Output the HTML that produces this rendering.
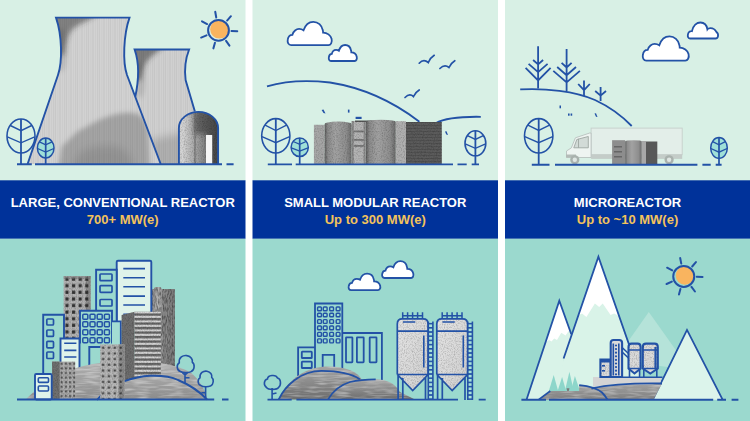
<!DOCTYPE html>
<html><head><meta charset="utf-8">
<style>
html,body{margin:0;padding:0;background:#fff;}
body{width:750px;height:421px;overflow:hidden;position:relative;font-family:"Liberation Sans",sans-serif;}
svg{position:absolute;left:0;top:0;display:block;}
</style></head><body>
<svg width="750" height="421" viewBox="0 0 750 421">
<defs>
  <pattern id="vstr" x="0" y="0" width="11" height="10" patternUnits="userSpaceOnUse">
    <rect x="0" y="0" width="0.8" height="10" fill="#000" fill-opacity="0.06"/>
    <rect x="2.5" y="0" width="0.7" height="10" fill="#000" fill-opacity="0.04"/>
    <rect x="4.6" y="0" width="0.9" height="10" fill="#000" fill-opacity="0.07"/>
    <rect x="7.2" y="0" width="0.7" height="10" fill="#000" fill-opacity="0.04"/>
    <rect x="9.3" y="0" width="0.8" height="10" fill="#000" fill-opacity="0.06"/>
  </pattern>
  <linearGradient id="t1g" x1="0" y1="0" x2="1" y2="0">
    <stop offset="0" stop-color="#9a9a9a"/>
    <stop offset="0.25" stop-color="#c4c4c4"/>
    <stop offset="0.7" stop-color="#cfcfcf"/>
    <stop offset="1" stop-color="#bdbdbd"/>
  </linearGradient>
  <linearGradient id="t1v" x1="0" y1="0" x2="0" y2="1">
    <stop offset="0" stop-color="#000" stop-opacity="0.15"/>
    <stop offset="0.12" stop-color="#000" stop-opacity="0"/>
    <stop offset="0.6" stop-color="#000" stop-opacity="0"/>
    <stop offset="1" stop-color="#000" stop-opacity="0.18"/>
  </linearGradient>

  <radialGradient id="t1r" cx="0.1" cy="0.05" r="0.5">
    <stop offset="0" stop-color="#000" stop-opacity="0.45"/>
    <stop offset="1" stop-color="#000" stop-opacity="0"/>
  </radialGradient>
  <radialGradient id="t2r" cx="0.05" cy="0.03" r="0.45">
    <stop offset="0" stop-color="#000" stop-opacity="0.5"/>
    <stop offset="1" stop-color="#000" stop-opacity="0"/>
  </radialGradient>
  <linearGradient id="archg" x1="0" y1="0" x2="1" y2="0">
    <stop offset="0" stop-color="#c8c8c8"/>
    <stop offset="0.15" stop-color="#d4d4d4"/>
    <stop offset="0.45" stop-color="#9c9c9c"/>
    <stop offset="0.8" stop-color="#5a5a5a"/>
    <stop offset="1" stop-color="#444"/>
  </linearGradient>

  <pattern id="win66" x="63.6" y="276.1" width="6.6" height="6.6" patternUnits="userSpaceOnUse">
    <rect x="1.8" y="1.4" width="3.2" height="3.2" fill="#333"/>
  </pattern>
  <pattern id="win55" x="101.5" y="346" width="5.9" height="5.7" patternUnits="userSpaceOnUse">
    <rect x="0.5" y="0.6" width="2.1" height="2.1" fill="#3a3a3a"/>
  </pattern>
  <pattern id="win44" x="59.7" y="361.6" width="4.2" height="4.6" patternUnits="userSpaceOnUse">
    <rect x="1" y="1.2" width="2" height="2" fill="#3a3a3a" fill-opacity="0.85"/>
  </pattern>
  <pattern id="strK" x="134.6" y="313.5" width="26.2" height="4.5" patternUnits="userSpaceOnUse">
    <rect x="0" y="2.3" width="26.2" height="1.9" fill="#e2e2e2"/>
    <rect x="0" y="0" width="26.2" height="2.3" fill="#4e4e4e" fill-opacity="0.6"/>
  </pattern>
  <linearGradient id="gJ" x1="0" y1="0" x2="1" y2="0">
    <stop offset="0" stop-color="#8e8e8e"/>
    <stop offset="0.3" stop-color="#b5b5b5"/>
    <stop offset="0.5" stop-color="#8a8a8a"/>
    <stop offset="1" stop-color="#7e7e7e"/>
  </linearGradient>
  <linearGradient id="hillg" x1="0" y1="0" x2="0" y2="1">
    <stop offset="0" stop-color="#b0b0b0"/>
    <stop offset="1" stop-color="#8e8e8e"/>
  </linearGradient>
  <linearGradient id="hillg2" x1="0" y1="0" x2="0" y2="1">
    <stop offset="0" stop-color="#a8a8a8"/>
    <stop offset="1" stop-color="#8a8a8a"/>
  </linearGradient>

  <linearGradient id="cyl" x1="0" y1="0" x2="1" y2="0">
    <stop offset="0" stop-color="#5e5e5e"/>
    <stop offset="0.12" stop-color="#8c8c8c"/>
    <stop offset="0.4" stop-color="#a2a2a2"/>
    <stop offset="0.8" stop-color="#8e8e8e"/>
    <stop offset="1" stop-color="#6a6a6a"/>
  </linearGradient>
  <pattern id="hstr" x="0" y="122" width="10" height="3" patternUnits="userSpaceOnUse">
    <rect x="0" y="0" width="10" height="1" fill="#000" fill-opacity="0.12"/>
  </pattern>

  <linearGradient id="hill2g" x1="0" y1="0" x2="0" y2="1">
    <stop offset="0" stop-color="#a4a4a4"/>
    <stop offset="0.5" stop-color="#8a8a8a"/>
    <stop offset="1" stop-color="#6c6c6c"/>
  </linearGradient>
  <linearGradient id="silof" x1="0" y1="0" x2="1" y2="1">
    <stop offset="0" stop-color="#e4e4e4"/>
    <stop offset="0.6" stop-color="#d8d8d8"/>
    <stop offset="1" stop-color="#cdcdcd"/>
  </linearGradient>
  <pattern id="ladder" x="0" y="322.8" width="5" height="4.2" patternUnits="userSpaceOnUse">
    <rect width="5" height="4.2" fill="#a8e2d8"/>
    <rect x="0" y="0" width="5" height="1.6" fill="#2352a6"/>
  </pattern>

  <linearGradient id="hill3g" x1="0" y1="0" x2="0" y2="1">
    <stop offset="0" stop-color="#a2a2a2"/>
    <stop offset="1" stop-color="#7e7e7e"/>
  </linearGradient>

  <filter id="blur3" x="-20%" y="-20%" width="140%" height="140%"><feGaussianBlur stdDeviation="2.5"/></filter>
  <filter id="blur4" x="-20%" y="-20%" width="140%" height="140%"><feGaussianBlur stdDeviation="4"/></filter>
  <filter id="blur5" x="-30%" y="-30%" width="160%" height="160%"><feGaussianBlur stdDeviation="5"/></filter>

  <pattern id="speck" x="0" y="0" width="7" height="7" patternUnits="userSpaceOnUse">
    <circle cx="1.5" cy="2" r="0.7" fill="#000" fill-opacity="0.12"/>
    <circle cx="5" cy="5.2" r="0.8" fill="#000" fill-opacity="0.1"/>
    <circle cx="4.2" cy="1" r="0.5" fill="#fff" fill-opacity="0.4"/>
  </pattern>

  <filter id="grain" x="0" y="0" width="100%" height="100%">
    <feTurbulence type="fractalNoise" baseFrequency="0.8 0.25" numOctaves="2" seed="5"/>
    <feColorMatrix values="0 0 0 0 0  0 0 0 0 0  0 0 0 0 0  0 0 0 0.9 -0.33"/>
    <feComposite in2="SourceAlpha" operator="in"/>
  </filter>
  <filter id="grainL" x="0" y="0" width="100%" height="100%">
    <feTurbulence type="fractalNoise" baseFrequency="0.75" numOctaves="2" seed="9"/>
    <feColorMatrix values="0 0 0 0 1  0 0 0 0 1  0 0 0 0 1  0 0 0 1.1 -0.5"/>
    <feComposite in2="SourceAlpha" operator="in"/>
  </filter>

  <filter id="grainS" x="0" y="0" width="100%" height="100%">
    <feTurbulence type="fractalNoise" baseFrequency="1.2 0.6" numOctaves="1" seed="2"/>
    <feColorMatrix values="0 0 0 0 0  0 0 0 0 0  0 0 0 0 0  0 0 0 0.5 -0.2"/>
    <feComposite in2="SourceAlpha" operator="in"/>
  </filter>

  <filter id="grainH" x="0" y="0" width="100%" height="100%">
    <feTurbulence type="fractalNoise" baseFrequency="0.06 0.45" numOctaves="2" seed="7"/>
    <feColorMatrix values="0 0 0 0 1  0 0 0 0 1  0 0 0 0 1  0 0 0 0.9 -0.38"/>
    <feComposite in2="SourceAlpha" operator="in"/>
  </filter>

  <filter id="grainXS" x="0" y="0" width="100%" height="100%">
    <feTurbulence type="fractalNoise" baseFrequency="0.9 0.7" numOctaves="2" seed="4"/>
    <feColorMatrix values="0 0 0 0 0  0 0 0 0 0  0 0 0 0 0  0 0 0 0.45 -0.19"/>
    <feComposite in2="SourceAlpha" operator="in"/>
  </filter>
</defs>

<!-- backgrounds -->
<rect x="0" y="0" width="750" height="421" fill="#fff"/>
<rect x="0" y="0" width="245.5" height="181" fill="#d8f0e5"/>
<rect x="252.5" y="0" width="245.5" height="181" fill="#d8f0e5"/>
<rect x="505" y="0" width="245" height="181" fill="#d8f0e5"/>
<rect x="0" y="180.3" width="245.5" height="58.5" fill="#00329a"/>
<rect x="252.5" y="180.3" width="245.5" height="58.5" fill="#00329a"/>
<rect x="505" y="180.3" width="245" height="58.5" fill="#00329a"/>
<rect x="0" y="238.8" width="245.5" height="182.2" fill="#9bd9ce"/>
<rect x="252.5" y="238.8" width="245.5" height="182.2" fill="#9bd9ce"/>
<rect x="505" y="238.8" width="245" height="182.2" fill="#9bd9ce"/>

<!-- text -->
<g font-family="Liberation Sans" font-weight="bold" font-size="13" text-anchor="middle">
  <text x="122.75" y="207.3" fill="#fff">LARGE, CONVENTIONAL REACTOR</text>
  <text x="122.75" y="224" fill="#f3c35c">700+ MW(e)</text>
  <text x="375.25" y="207.3" fill="#fff">SMALL MODULAR REACTOR</text>
  <text x="375.25" y="224" fill="#f3c35c">Up to 300 MW(e)</text>
  <text x="627.5" y="207.3" fill="#fff">MICROREACTOR</text>
  <text x="627.5" y="224" fill="#f3c35c">Up to ~10 MW(e)</text>
</g>

<!-- PANEL 1 TOP -->
<g id="p1top">
  <!-- tower 2 -->
  <clipPath id="cT2"><path d="M135,98 C139,80 139,62 134.6,49.5 L189.1,49.5 C185,60 184.3,70 185.6,80 L194.8,111.3 L212,164 L140,164Z"/></clipPath>
  <clipPath id="cT1"><path d="M27.6,164 L58,75 C62.6,61.6 62,35 56,17.6 L129.5,17.6 C123.5,35 122.5,62 127,75 L160.7,164Z"/></clipPath>
  <g clip-path="url(#cT2)">
    <rect x="130" y="45" width="90" height="125" fill="#d0d0d0"/>
    <path d="M130,45 H165 C158,52 152,55 148,60 C144,65 142,72 141,80 L130,80Z" fill="#333" fill-opacity="0.55" filter="url(#blur3)"/>
    <ellipse cx="140" cy="80" rx="5" ry="18" fill="#000" fill-opacity="0.12" filter="url(#blur3)"/>
    <path d="M150,140 C165,136 185,132 200,130 L215,170 H150Z" fill="#000" fill-opacity="0.16" filter="url(#blur4)"/>
    <rect x="130" y="45" width="90" height="125" fill="url(#vstr)"/>
  </g>
  <path d="M135,98 C139,80 139,62 134.6,49.5 L189.1,49.5 C185,60 184.3,70 185.6,80 L194.8,111.3" fill="none" stroke="#2352a6" stroke-width="1.9"/>
  <!-- tower 1 -->
  <g clip-path="url(#cT1)">
    <rect x="20" y="10" width="150" height="160" fill="#d2d2d2"/>
    <path d="M50,12 H100 C92,20 82,22 74,28 C68,33 66,42 64,55 L50,55Z" fill="#333" fill-opacity="0.5" filter="url(#blur3)"/>
    <ellipse cx="61" cy="50" rx="6" ry="22" fill="#000" fill-opacity="0.12" filter="url(#blur3)"/>
    <path d="M58,170 L62,146 C70,140 75,132 82,129 C92,124 100,119 104,118 C112,115 122,112 132,113 C140,113 145,118 148,130 L150,170Z" fill="#000" fill-opacity="0.22" filter="url(#blur3)"/>
    <path d="M72,170 C74,160 78,153 84,150 C94,146 104,145 114,146 C122,147 128,152 132,160 L134,170Z" fill="#000" fill-opacity="0.1" filter="url(#blur4)"/>
    <rect x="20" y="10" width="150" height="160" fill="url(#vstr)"/>
  </g>
  <path d="M27.6,164 L58,75 C62.6,61.6 62,35 56,17.6 L129.5,17.6 C123.5,35 122.5,62 127,75 L160.7,164" fill="none" stroke="#2352a6" stroke-width="1.9"/>
  <!-- arch building -->
  <clipPath id="cArch"><path d="M178.9,164.2 L178.9,128 A19.6,16.1 0 0 1 218.1,128 L218.1,164.2Z"/></clipPath>
  <g clip-path="url(#cArch)">
    <rect x="175" y="108" width="50" height="60" fill="url(#archg)"/>
    <path d="M194,110 H222 V168 H212 L208,134 H194Z" fill="#3c3c3c" fill-opacity="0.6" filter="url(#blur3)"/>
    <rect x="194" y="112" width="2" height="52" fill="#666" fill-opacity="0.5"/>
    <rect x="175" y="108" width="50" height="60" fill="#000" filter="url(#grainXS)"/>
    <rect x="206" y="135" width="6.2" height="29" fill="#f4f4f4"/>
  </g>
  <path d="M178.9,164.2 L178.9,128 A19.6,16.1 0 0 1 218.1,128 L218.1,164.2" fill="none" stroke="#2352a6" stroke-width="1.9"/>
  <!-- ground -->
  <path d="M17,164.3 H31.8 M35,164.3 H222 M226.5,164.3 H233.6" stroke="#2352a6" stroke-width="1.9"/>
  <!-- trees -->
  <ellipse cx="21" cy="136" rx="14" ry="17" fill="none" stroke="#2352a6" stroke-width="1.6"/>
  <path d="M21,119.0 V164.3" stroke="#2352a6" stroke-width="1.8"/>
  <path d="M10.3,125.5 L21,130.7 L31.7,125.5 M7.3,136.8 L21,142.8 L34.7,136.8" fill="none" stroke="#2352a6" stroke-width="1.4"/>
  <ellipse cx="45.7" cy="148" rx="8.3" ry="10" fill="#9fe0d8" stroke="#2352a6" stroke-width="1.5"/>
  <path d="M45.7,138.0 V164.3" stroke="#2352a6" stroke-width="1.7"/>
  <path d="M39.4,141.8 L45.7,144.9 L52.0,141.8 M37.6,148.5 L45.7,152.0 L53.8,148.5" fill="none" stroke="#2352a6" stroke-width="1.3"/>
  <!-- sun -->
  <g transform="translate(218.5,30.3)">
    <circle cx="1" cy="-1" r="9.3" fill="#f9b45f"/>
    <circle cx="0" cy="0" r="10.4" fill="none" stroke="#2352a6" stroke-width="2"/>
    <g stroke="#2352a6" stroke-width="2" stroke-linecap="round">
      <path d="M13,0 L18.8,0" transform="rotate(3)"/>
      <path d="M13,0 L18.8,0" transform="rotate(54.4)"/>
      <path d="M13,0 L18.8,0" transform="rotate(105.8)"/>
      <path d="M13,0 L18.8,0" transform="rotate(157.2)"/>
      <path d="M13,0 L18.8,0" transform="rotate(208.6)"/>
      <path d="M13,0 L18.8,0" transform="rotate(260)"/>
      <path d="M13,0 L18.8,0" transform="rotate(311.4)"/>
    </g>
  </g>
</g>
<!-- PANEL 1 BOTTOM -->
<g id="p1bot">
  <!-- gray tower J (back right) -->
  <path d="M151.6,375 L151.6,289 L154,289 C154,287.5 155,287 157,287 L160,287 C161,287 161.5,288 161.5,289 L174.9,289 L174.9,378Z" fill="url(#gJ)"/>
  <path d="M151.6,375 L151.6,289 L154,289 C154,287.5 155,287 157,287 L160,287 C161,287 161.5,288 161.5,289 L174.9,289 L174.9,378Z" fill="#000" filter="url(#grain)"/>
  <rect x="151.6" y="289" width="23.3" height="90" fill="url(#vstr)"/>
  <!-- gray tower G1 (back left) -->
  <rect x="63.6" y="276.1" width="27.1" height="66" fill="#b2b2b2"/>
  <rect x="85.7" y="276.1" width="5" height="66" fill="#8d8d8d"/>
  <rect x="63.6" y="276.1" width="27.1" height="66" fill="url(#win66)"/>
  <rect x="63.6" y="276.1" width="27.1" height="3" fill="#777" fill-opacity="0.5"/>
  <rect x="63.6" y="276.1" width="27.1" height="66" fill="#000" filter="url(#grainS)"/>
  <!-- building B (tall light) -->
  <path d="M116.7,330 V262 Q116.7,260.8 118,260.8 H150 Q151.3,260.8 151.3,262 V330" fill="#dff3ea" stroke="#2352a6" stroke-width="1.9"/>
  <path d="M123.3,268.6 H145 M123.3,277.8 H145 M123.3,286.8 H145 M123.3,296.1 H145 M123.3,305 H145 M123.3,314.4 H145" stroke="#2352a6" stroke-width="1.6"/>
  <!-- building A (outline 3 windows) -->
  <path d="M96.1,312 V269.7 H116.7 V321.4" fill="#9bd9ce" stroke="#2352a6" stroke-width="1.9"/>
  <rect x="100" y="274" width="12" height="6.7" rx="0.8" fill="none" stroke="#2352a6" stroke-width="1.7"/>
  <rect x="100" y="285.7" width="12" height="6.7" rx="0.8" fill="none" stroke="#2352a6" stroke-width="1.7"/>
  <rect x="100" y="299.5" width="12" height="6.5" rx="0.8" fill="none" stroke="#2352a6" stroke-width="1.7"/>
  <!-- building D (left outline) -->
  <path d="M43.2,374 V314.7 H64 V340" fill="#9bd9ce" stroke="#2352a6" stroke-width="1.9"/>
  <rect x="46.8" y="319" width="6.7" height="6" rx="1" fill="none" stroke="#2352a6" stroke-width="1.7"/>
  <rect x="46.8" y="330" width="6.7" height="6.4" rx="1" fill="none" stroke="#2352a6" stroke-width="1.7"/>
  <rect x="46.8" y="341.4" width="6.7" height="6.4" rx="1" fill="none" stroke="#2352a6" stroke-width="1.7"/>
  <rect x="46.8" y="352" width="6.7" height="6.5" rx="1" fill="none" stroke="#2352a6" stroke-width="1.7"/>
  <!-- building C (grid) -->
  <path d="M80,343.5 V310.7 H112 V343.5" fill="#9bd9ce" stroke="#2352a6" stroke-width="1.9"/>
  <g fill="none" stroke="#2352a6" stroke-width="1.5">
    <rect x="82.8" y="314.3" width="5" height="5" rx="1"/><rect x="90" y="314.3" width="5" height="5" rx="1"/><rect x="97.2" y="314.3" width="5" height="5" rx="1"/><rect x="104.4" y="314.3" width="5" height="5" rx="1"/>
    <rect x="82.8" y="321.8" width="5" height="5" rx="1"/><rect x="90" y="321.8" width="5" height="5" rx="1"/><rect x="97.2" y="321.8" width="5" height="5" rx="1"/><rect x="104.4" y="321.8" width="5" height="5" rx="1"/>
    <rect x="82.8" y="329.7" width="5" height="5" rx="1"/><rect x="90" y="329.7" width="5" height="5" rx="1"/><rect x="97.2" y="329.7" width="5" height="5" rx="1"/><rect x="104.4" y="329.7" width="5" height="5" rx="1"/>
    <rect x="82.8" y="337.8" width="5" height="5" rx="1"/><rect x="90" y="337.8" width="5" height="5" rx="1"/><rect x="97.2" y="337.8" width="5" height="5" rx="1"/><rect x="104.4" y="337.8" width="5" height="5" rx="1"/>
  </g>
  <!-- building I (outline with door, below C) -->
  <path d="M89.3,372 V347 H101" fill="#9bd9ce" stroke="#2352a6" stroke-width="1.9"/>
  <rect x="112" y="321.4" width="9" height="30" fill="#a3ddd3"/>
  <path d="M112,321.4 H120.8 V352" fill="none" stroke="#2352a6" stroke-width="1.8"/>
  <!-- building E (light with lines) -->
  <path d="M60.5,376 V338.5 H79.5 V376Z" fill="#dff3ea" stroke="#2352a6" stroke-width="1.9"/>
  <path d="M64.2,343.2 H76.4 M64.2,350.4 H76.4 M64.2,357 H76.4" stroke="#2352a6" stroke-width="1.6"/>
  <!-- big hill (gray) -->
  <path d="M25.8,399.5 C40,385 60,368 100,363 C140,358 170,362 190,372 C200,380 205,390 207.5,399.5Z" fill="url(#hillg)"/>
  <path d="M25.8,399.5 C40,385 60,368 100,363 C140,358 170,362 190,372 C200,380 205,390 207.5,399.5Z" fill="#000" filter="url(#grainH)"/>
  <!-- gray building K (stripes) -->
  <path d="M121.6,380 V315 L134.6,311.8 V380Z" fill="#6e6e6e"/>
  <rect x="134.6" y="311.8" width="26.2" height="68" fill="#8a8a8a"/>
  <rect x="134.6" y="311.8" width="26.2" height="68" fill="url(#strK)"/>
  <path d="M121.6,380 V315 L134.6,311.8 H160.8 V380Z" fill="#000" filter="url(#grainS)"/>
  <!-- hill front arc -->
  <path d="M97,400 C105,390 114,384 124.5,381.2 C132,378.5 141,376.3 150,375.8 C160,375.5 170,376 178,380 C190,385 200,392 207,399.5 Z" fill="url(#hillg2)"/>
  <path d="M97,400 C105,390 114,384 124.5,381.2 C132,378.5 141,376.3 150,375.8 C160,375.5 170,376 178,380 C190,385 200,392 207,399.5 Z" fill="#000" filter="url(#grainH)"/>
  <path d="M97,400 C105,390 114,384 124.5,381.2 C132,378.5 141,376.3 150,375.8 C160,375.5 170,376 178,380 C190,385 200,392 207,399.5" fill="none" stroke="#2352a6" stroke-width="1.9"/>
  <!-- gray building H -->
  <rect x="100.2" y="344.4" width="24.3" height="55" fill="#b6b6b6"/>
  <rect x="118.5" y="344.4" width="6" height="55" fill="#8c8c8c"/>
  <rect x="100.2" y="344.4" width="24.3" height="55" fill="url(#win55)"/>
  <rect x="100.2" y="344.4" width="24.3" height="55" fill="#000" filter="url(#grainS)"/>
  <!-- gray building G -->
  <rect x="52" y="361.6" width="23.2" height="38" fill="#adadad"/>
  <rect x="52" y="361.6" width="7.7" height="38" fill="#6f6f6f"/>
  <rect x="59.7" y="361.6" width="15.5" height="38" fill="url(#win44)"/>
  <rect x="52" y="361.6" width="23.2" height="38" fill="#000" filter="url(#grainS)"/>
  <!-- building F -->
  <rect x="35" y="374" width="16.7" height="25.5" rx="1.2" fill="#dff3ea" stroke="#2352a6" stroke-width="1.9"/>
  <rect x="38.3" y="377.8" width="10.2" height="4.6" rx="1" fill="none" stroke="#2352a6" stroke-width="1.6"/>
  <rect x="38.3" y="386" width="10.2" height="5" rx="1" fill="none" stroke="#2352a6" stroke-width="1.6"/>
  <!-- trees -->
  <g fill="none" stroke="#2352a6" stroke-width="1.6" stroke-linejoin="round">
    <path d="M185,372 V383 M185,377.8 H189.5 M182.5,373 L185,375 L187.5,373"/>
    <path d="M180.5,371.5 C176.5,370.5 176.3,364.5 179.3,362.8 C178.5,357.5 183,354.8 187,355.6 C191,356.3 193,359.5 192.3,362.3 C195,364 194.8,370 191.2,371.6 C188.5,373 182.8,373 180.5,371.5Z"/>
    <path d="M205.6,386.4 V399 M205.6,392.8 H201.4"/>
    <path d="M201,385.6 C197.5,384.7 197.3,379.5 200,377.9 C199.4,373 203.5,370.6 207,371.2 C210.5,371.8 212.3,374.8 211.7,377.4 C214,379 213.8,384.5 210.6,385.9 C208.2,387.1 203,387.1 201,385.6Z"/>
  </g>
  <!-- ground -->
  <path d="M17,399.5 H214.2 M222,399.5 H228.5" stroke="#2352a6" stroke-width="1.9"/>
</g>
<!-- PANEL 2 TOP -->
<g id="p2top">
  <path d="M8,52 C2,52 -0.5,46 0.5,40 C1.5,33 6,29 11,29 C13,21 20,16 26,16 C30,16 33,17 36,19 C40,7 49,0 58,0 C69,0 77,8 79,18 C80,20 80,22 80,24 C89,24 97,30 99,38 C101,46 97,52 92,52 Z" transform="translate(287.5,21.8) scale(0.4450,0.4481)" fill="#fff" stroke="#2352a6" stroke-width="1.8" vector-effect="non-scaling-stroke"/>
  <path d="M8,52 C2,52 -0.5,46 0.5,40 C1.5,33 6,29 11,29 C13,21 20,16 26,16 C30,16 33,17 36,19 C40,7 49,0 58,0 C69,0 77,8 79,18 C80,20 80,22 80,24 C89,24 97,30 99,38 C101,46 97,52 92,52 Z" transform="translate(328.7,45) scale(0.2830,0.3077)" fill="#fff" stroke="#2352a6" stroke-width="1.8" vector-effect="non-scaling-stroke"/>
  <path d="M267,86.4 C285,81 305,79.5 330,82.5 C365,88 395,103 419.4,121.7" fill="none" stroke="#2352a6" stroke-width="1.8"/>
  <path d="M435.6,123.2 C445,118 462,116.5 480.8,116.8" fill="none" stroke="#2352a6" stroke-width="1.8"/>
  <g fill="none" stroke="#2352a6" stroke-width="1.7" stroke-linecap="round">
    <path d="M419.2,63.2 Q423.5,58.5 428.3,62.5 Q430,58 434.2,55.3"/>
    <path d="M439.9,68.5 Q444.5,64 449,67.5 Q451,63 454.8,60.7"/>
    <path d="M405,97.5 Q409.5,93 413.5,96.5 Q415.5,92 419.2,89.9"/>
  </g>
  <g fill="#2352a6">
    <path d="M321.6,110 L323.5,109.6 L325.5,113.5 L323.5,113Z"/>
    <rect x="347.9" y="109.6" width="1.6" height="3"/>
    <rect x="355.6" y="116.8" width="6" height="2.2"/>
    <path d="M445,131.4 L446.5,131.2 L448,135 L446.3,134.5Z"/>
  </g>
  <!-- building complex -->
  <rect x="313.9" y="124.8" width="10.8" height="39.5" fill="#a6a6a6"/>
  <path d="M324.7,164.3 V124 Q324.7,122 338,121.5 Q351.7,122 351.7,124 V164.3Z" fill="url(#cyl)"/>
  <rect x="351.7" y="121" width="13.9" height="43.3" fill="#b3b3b3"/>
  <rect x="351.7" y="121" width="2" height="43.3" fill="#888"/>
  <rect x="363.6" y="121" width="2" height="43.3" fill="#888"/>
  <rect x="353.7" y="130.5" width="10" height="1.8" fill="#777"/>
  <rect x="353.7" y="139" width="10" height="1.8" fill="#777"/>
  <rect x="353.7" y="145" width="10" height="1.8" fill="#777"/>
  <path d="M355,120.5 H375 V122 H355Z" fill="#555"/>
  <path d="M365.9,164.3 V122 Q365.9,120.1 381,119.8 Q395.8,120.1 395.8,122 V164.3Z" fill="url(#cyl)"/>
  <rect x="395.8" y="121.2" width="10.2" height="43.1" fill="#afafaf"/>
  <rect x="406" y="122" width="35.8" height="42.3" fill="#5b5b5b"/>
  <rect x="406" y="122" width="35.8" height="42.3" fill="url(#hstr)"/>
  <clipPath id="cCplx">
    <rect x="313.9" y="124.8" width="10.8" height="39.5"/>
    <path d="M324.7,164.3 V124 Q324.7,122 338,121.5 Q351.7,122 351.7,124 V164.3Z"/>
    <rect x="351.7" y="121" width="14.2" height="43.3"/>
    <path d="M365.9,164.3 V122 Q365.9,120.1 381,119.8 Q395.8,120.1 395.8,122 V164.3Z"/>
    <rect x="395.8" y="121.2" width="10.2" height="43.1"/>
    <rect x="406" y="122" width="35.8" height="42.3"/>
  </clipPath>
  <g clip-path="url(#cCplx)"><rect x="313.9" y="119.8" width="128" height="44.5" fill="#000" filter="url(#grainXS)"/></g>
  <!-- trees -->
  <ellipse cx="275.8" cy="135.8" rx="14.1" ry="17.2" fill="none" stroke="#2352a6" stroke-width="1.6"/>
  <path d="M275.8,118.6 V164.4" stroke="#2352a6" stroke-width="1.8"/>
  <path d="M265.1,125.1 L275.8,130.5 L286.5,125.1 M262.0,136.7 L275.8,142.7 L289.6,136.7" fill="none" stroke="#2352a6" stroke-width="1.4"/>
  <ellipse cx="299.7" cy="147.3" rx="8.6" ry="9.3" fill="#9fe0d8" stroke="#2352a6" stroke-width="1.5"/>
  <path d="M299.7,138.0 V164.4" stroke="#2352a6" stroke-width="1.7"/>
  <path d="M293.2,141.5 L299.7,144.4 L306.2,141.5 M291.3,147.8 L299.7,151.0 L308.1,147.8" fill="none" stroke="#2352a6" stroke-width="1.3"/>
  <ellipse cx="475.4" cy="143.3" rx="10.4" ry="12.5" fill="none" stroke="#2352a6" stroke-width="1.6"/>
  <path d="M475.4,130.8 V164.4" stroke="#2352a6" stroke-width="1.8"/>
  <path d="M467.5,135.6 L475.4,139.4 L483.3,135.6 M465.2,143.9 L475.4,148.3 L485.6,143.9" fill="none" stroke="#2352a6" stroke-width="1.4"/>
  <!-- ground -->
  <path d="M267.8,164.4 H292 M295.7,164.4 H453 M457.5,164.4 H466.7 M471.7,164.4 H479" stroke="#2352a6" stroke-width="1.9"/>
</g>
<!-- PANEL 2 BOTTOM -->
<g id="p2bot">
  <path d="M8,52 C2,52 -0.5,46 0.5,40 C1.5,33 6,29 11,29 C13,21 20,16 26,16 C30,16 33,17 36,19 C40,7 49,0 58,0 C69,0 77,8 79,18 C80,20 80,22 80,24 C89,24 97,30 99,38 C101,46 97,52 92,52 Z" transform="translate(348.5,273.7) scale(0.3200,0.3173)" fill="#fff" stroke="#2352a6" stroke-width="1.8" vector-effect="non-scaling-stroke"/>
  <path d="M8,52 C2,52 -0.5,46 0.5,40 C1.5,33 6,29 11,29 C13,21 20,16 26,16 C30,16 33,17 36,19 C40,7 49,0 58,0 C69,0 77,8 79,18 C80,20 80,22 80,24 C89,24 97,30 99,38 C101,46 97,52 92,52 Z" transform="translate(382,261.2) scale(0.3160,0.3231)" fill="#fff" stroke="#2352a6" stroke-width="1.8" vector-effect="non-scaling-stroke"/>
  <!-- buildings -->
  <g fill="none" stroke="#2352a6" stroke-width="1.8">
    <path d="M298.1,390 V347.4 H315"/>
    <rect x="301.8" y="351.6" width="10" height="6.4" rx="0.6"/>
    <rect x="301.8" y="361.7" width="10" height="6.3" rx="0.6"/>
    <path d="M315,380 V303.5 H342.3 V380"/>
    <path d="M322.7,370 V354.8 H334.2 V370"/>
    <path d="M342.3,333 H381.9 V385"/>
    <rect x="346" y="337.3" width="6.4" height="25" rx="0.5"/>
    <rect x="356.9" y="337.3" width="6.8" height="25" rx="0.5"/>
    <rect x="369.7" y="337.3" width="6.8" height="25" rx="0.5"/>
  </g>
  <g fill="none" stroke="#2352a6" stroke-width="1.4">
    <rect x="317.6" y="307" width="3.8" height="3.8" rx="0.8"/><rect x="323.3" y="307" width="3.8" height="3.8" rx="0.8"/><rect x="329.7" y="307" width="3.8" height="3.8" rx="0.8"/><rect x="336.2" y="307" width="3.8" height="3.8" rx="0.8"/>
    <rect x="317.6" y="313.2" width="3.8" height="3.6" rx="0.8"/><rect x="323.3" y="313.2" width="3.8" height="3.6" rx="0.8"/><rect x="329.7" y="313.2" width="3.8" height="3.6" rx="0.8"/><rect x="336.2" y="313.2" width="3.8" height="3.6" rx="0.8"/>
    <rect x="317.6" y="319.6" width="3.8" height="3.8" rx="0.8"/><rect x="323.3" y="319.6" width="3.8" height="3.8" rx="0.8"/><rect x="329.7" y="319.6" width="3.8" height="3.8" rx="0.8"/><rect x="336.2" y="319.6" width="3.8" height="3.8" rx="0.8"/>
    <rect x="317.6" y="326" width="3.8" height="3.8" rx="0.8"/><rect x="323.3" y="326" width="3.8" height="3.8" rx="0.8"/><rect x="329.7" y="326" width="3.8" height="3.8" rx="0.8"/><rect x="336.2" y="326" width="3.8" height="3.8" rx="0.8"/>
    <rect x="317.6" y="332.4" width="3.8" height="3.8" rx="0.8"/><rect x="323.3" y="332.4" width="3.8" height="3.8" rx="0.8"/><rect x="329.7" y="332.4" width="3.8" height="3.8" rx="0.8"/><rect x="336.2" y="332.4" width="3.8" height="3.8" rx="0.8"/>
    <rect x="317.6" y="338.9" width="3.8" height="4" rx="0.8"/><rect x="323.3" y="338.9" width="3.8" height="4" rx="0.8"/><rect x="329.7" y="338.9" width="3.8" height="4" rx="0.8"/><rect x="336.2" y="338.9" width="3.8" height="4" rx="0.8"/>
  </g>
  <!-- hills -->
  <path d="M278.7,399.4 C285,385 300,368 325.3,366.6 C345,366 358,372 362,380 L362,399.4Z" fill="url(#hill2g)"/>
  <path d="M278.7,399.4 C285,385 300,368 325.3,366.6 C345,366 358,372 362,380 L362,399.4Z" fill="#000" filter="url(#grainH)"/>
  <path d="M278.7,399.4 C285,386 300,371 321.6,370.9 C338,371 352,374 359.8,379.3" fill="none" stroke="#2352a6" stroke-width="1.8"/>
  <path d="M328.1,399.4 C333,391 340,385 350,382 C360,379.5 370,379 379.4,379.4 C390,380 397,386 400,392 L415,399.4Z" fill="url(#hill2g)"/>
  <path d="M328.1,399.4 C333,391 340,385 350,382 C360,379.5 370,379 379.4,379.4 C390,380 397,386 400,392 L415,399.4Z" fill="#000" filter="url(#grainH)"/>
  <path d="M328.1,399.4 C333,391 340,385 350,382 C358,380 367,379.3 375.7,379.3" fill="none" stroke="#2352a6" stroke-width="1.8"/>
  <!-- silos -->
  <g>
    <path d="M397.3,374.5 V324 Q397.3,318.9 402.3,318.9 H423.1 Q428.1,318.9 428.1,324 V374.5 L412.7,390.5Z" fill="url(#silof)"/>
    <path d="M397.3,374.5 V324 Q397.3,318.9 402.3,318.9 H423.1 Q428.1,318.9 428.1,324 V374.5 L412.7,390.5Z" fill="#000" filter="url(#grainXS)"/>
    <path d="M397.3,374.5 V324 Q397.3,318.9 402.3,318.9 H423.1 Q428.1,318.9 428.1,324 V374.5 M397.3,331.1 H428.1 M397.3,374.5 H428.1 L412.7,390.5 L397.3,374.5 M398.1,374.5 V400 M402.8,378 V400 M425.5,377 V400 M403,322 H415.3" fill="none" stroke="#2352a6" stroke-width="1.7"/>
    <path d="M423.8,335.4 V367.5" stroke="#2352a6" stroke-width="1.6"/>
    <path d="M402,315.7 H423.3 M402.7,312.3 V319 M407.6,312.3 V319 M412.6,312.3 V319 M417.6,312.3 V319 M422.5,312.3 V319" fill="none" stroke="#2352a6" stroke-width="1.5"/>
    <rect x="428.3" y="321.5" width="4.6" height="78.5" fill="url(#ladder)"/>
    <path d="M428.3,321.5 V400 M432.9,321.5 V400" stroke="#2352a6" stroke-width="1.6"/>
  </g>
  <g>
    <path d="M436.8,374.5 V324 Q436.8,318.9 441.8,318.9 H462.6 Q467.6,318.9 467.6,324 V374.5 L452.2,390.5Z" fill="url(#silof)"/>
    <path d="M436.8,374.5 V324 Q436.8,318.9 441.8,318.9 H462.6 Q467.6,318.9 467.6,324 V374.5 L452.2,390.5Z" fill="#000" filter="url(#grainXS)"/>
    <path d="M436.8,374.5 V324 Q436.8,318.9 441.8,318.9 H462.6 Q467.6,318.9 467.6,324 V374.5 M436.8,331.1 H467.6 M436.8,374.5 H467.6 L452.2,390.5 L436.8,374.5 M437.6,374.5 V400 M442.3,378 V400 M465.0,377 V400 M442.5,322 H454.8" fill="none" stroke="#2352a6" stroke-width="1.7"/>
    <path d="M463.3,335.4 V367.5" stroke="#2352a6" stroke-width="1.6"/>
    <path d="M441.5,315.7 H462.8 M442.2,312.3 V319 M447.1,312.3 V319 M452.1,312.3 V319 M457.1,312.3 V319 M462.0,312.3 V319" fill="none" stroke="#2352a6" stroke-width="1.5"/>
    <rect x="467.8" y="321.5" width="4.6" height="78.5" fill="url(#ladder)"/>
    <path d="M467.8,321.5 V400 M472.4,321.5 V400" stroke="#2352a6" stroke-width="1.6"/>
  </g>
  <!-- tree -->
  <g fill="none" stroke="#2352a6" stroke-width="1.6">
    <path d="M272.1,399 V388 M272.1,394 L276.5,393"/>
    <path d="M266.5,387.5 C263.5,385.5 263.5,380 267.5,379 C267.5,375 276,374 277.5,378 C281,378.5 281.5,385 278.5,387.5 C277,390 268.5,390 266.5,387.5Z"/>
  </g>
  <!-- ground -->
  <path d="M267.5,399.6 H291.7 M296.4,399.6 H458 M478.7,399.6 H485.7" stroke="#2352a6" stroke-width="1.9"/>
</g>
<!-- PANEL 3 TOP -->
<g id="p3top">
  <path d="M8,52 C2,52 -0.5,46 0.5,40 C1.5,33 6,29 11,29 C13,21 20,16 26,16 C30,16 33,17 36,19 C40,7 49,0 58,0 C69,0 77,8 79,18 C80,20 80,22 80,24 C89,24 97,30 99,38 C101,46 97,52 92,52 Z" transform="translate(642.6,36.4) scale(0.4640,0.4654)" fill="#fff" stroke="#2352a6" stroke-width="1.8" vector-effect="non-scaling-stroke"/>
  <path d="M8,52 C2,52 -0.5,46 0.5,40 C1.5,32 7,27 14,28 C18,10 30,0 42,0 C54,0 63,9 65,22 C67,19 71,18 75,18 C84,18 91,23 95,31 C99,34 101,40 100,45 C99,49 96,52 92,52 Z" transform="translate(687.7,22.5) scale(0.3030,0.3077)" fill="#fff" stroke="#2352a6" stroke-width="1.8" vector-effect="non-scaling-stroke"/>
  <path d="M520.2,89.4 C545,88 575,91 595,100 C610,107 622,116 631.7,126" fill="none" stroke="#2352a6" stroke-width="1.8"/>
  <path d="M538.1,46.2 V88.6 M533.1,60.0 L538.1,64.4 L543.1,60.0 M528.6,63.9 L538.1,72.1 L547.6,63.9 M525.6,67.8 L538.1,80.4 L550.6,67.8" fill="none" stroke="#2352a6" stroke-width="1.8" stroke-linejoin="miter"/>
  <path d="M566.6,49 V91 M561.6,62.8 L566.6,67.5 L571.6,62.8 M557.2,67.0 L566.6,75.2 L576.0,67.0 M553.3,70.9 L566.6,82.4 L579.9,70.9" fill="none" stroke="#2352a6" stroke-width="1.8" stroke-linejoin="miter"/>
  <path d="M584,80.4 V95.9 M578.2,84.0 L584,90.2 L589.8,84.0" fill="none" stroke="#2352a6" stroke-width="1.8" stroke-linejoin="miter"/>
  <path d="M600.6,87 V101 M595.2,91.0 L600.6,95.6 L606.0,91.0" fill="none" stroke="#2352a6" stroke-width="1.8" stroke-linejoin="miter"/>
  <g fill="#2352a6">
    <rect x="559.5" y="105.5" width="1.5" height="2.8"/>
    <rect x="568" y="113.5" width="1.6" height="2.2"/><rect x="570.6" y="113.5" width="1.6" height="2.2"/>
    <path d="M594.5,113.5 L596,113.3 L597.5,117 L596,116.8Z"/>
  </g>
  <!-- truck -->
  <rect x="591.1" y="128.1" width="91.1" height="26.6" fill="#e3eee9" stroke="#c6cfcb" stroke-width="0.9"/>
  <rect x="591.1" y="154.4" width="91.1" height="4.5" fill="#c4ccc8"/>
  <path d="M566.5,157.5 V151 L571.3,147.9 L575.4,137.8 L589.7,133 H591.1 V157.5Z" fill="#eef4f1" stroke="#b9c2be" stroke-width="0.9"/>
  <path d="M573.8,147.8 L576.8,139.5 L588.3,136.5 V147.8Z" fill="#d2dbd7" stroke="#9ea7a3" stroke-width="0.9"/>
  <path d="M578.5,138.8 V147.8" stroke="#9ea7a3" stroke-width="0.9"/>
  <rect x="566" y="154.5" width="10" height="3" fill="#b3bbb7"/>
  <circle cx="574.8" cy="159.8" r="4.6" fill="#a9b1ad"/><circle cx="574.8" cy="159.8" r="2.2" fill="#dfe6e3"/>
  <circle cx="669.1" cy="159.8" r="4.6" fill="#a9b1ad"/><circle cx="669.1" cy="159.8" r="2.2" fill="#dfe6e3"/>
  <!-- reactor module -->
  <rect x="612.1" y="140.2" width="13.1" height="24.3" fill="#8d8d8d"/>
  <rect x="614" y="146" width="8" height="1.5" fill="#666"/><rect x="614" y="151" width="8" height="1.5" fill="#666"/><rect x="614" y="156" width="8" height="1.5" fill="#666"/>
  <path d="M625.2,164.5 V141.5 Q625.2,140.2 633.5,140.2 Q641.8,140.2 641.8,141.5 V164.5Z" fill="url(#cyl)"/>
  <rect x="641.8" y="141" width="4.2" height="23.5" fill="#a8a8a8"/>
  <rect x="646" y="141.5" width="11.3" height="23" fill="#585858"/>
  <!-- trees -->
  <ellipse cx="538.7" cy="135.8" rx="14.2" ry="17.2" fill="none" stroke="#2352a6" stroke-width="1.6"/>
  <path d="M538.7,118.6 V164.7" stroke="#2352a6" stroke-width="1.8"/>
  <path d="M527.9,125.1 L538.7,130.5 L549.5,125.1 M524.8,136.7 L538.7,142.7 L552.6,136.7" fill="none" stroke="#2352a6" stroke-width="1.4"/>
  <ellipse cx="719" cy="148" rx="8.3" ry="10.4" fill="#9fe0d8" stroke="#2352a6" stroke-width="1.5"/>
  <path d="M719,137.6 V164.7" stroke="#2352a6" stroke-width="1.7"/>
  <path d="M712.7,141.6 L719,144.8 L725.3,141.6 M710.9,148.5 L719,152.2 L727.1,148.5" fill="none" stroke="#2352a6" stroke-width="1.3"/>
  <!-- ground -->
  <path d="M531.8,164.7 H549.5 M555,164.7 H697.4 M702.4,164.7 H710.7 M715.7,164.7 H721.6" stroke="#2352a6" stroke-width="1.9"/>
</g>
<!-- PANEL 3 BOTTOM -->
<g id="p3bot">
  <g transform="translate(683.75,276.4)">
    <circle cx="1.2" cy="-0.9" r="9.2" fill="#f9b45f"/>
    <circle cx="0" cy="0" r="10.5" fill="none" stroke="#2352a6" stroke-width="2"/>
    <g stroke="#2352a6" stroke-width="2" stroke-linecap="round">
      <path d="M13,0 L18.8,0" transform="rotate(2.0)"/>
      <path d="M13,0 L18.8,0" transform="rotate(53.4)"/>
      <path d="M13,0 L18.8,0" transform="rotate(104.8)"/>
      <path d="M13,0 L18.8,0" transform="rotate(156.2)"/>
      <path d="M13,0 L18.8,0" transform="rotate(207.6)"/>
      <path d="M13,0 L18.8,0" transform="rotate(259.0)"/>
      <path d="M13,0 L18.8,0" transform="rotate(310.4)"/>
    </g>
  </g>
  <!-- background light mountain -->
  <path d="M615,360 L648.8,312 L690,370Z" fill="#b5e3d9"/>
  <!-- big mountain -->
  <path d="M598.4,256.7 L563.6,358.5 L555,400 L650,400 L628,343.8Z" fill="#d9f3e8"/>
  <path d="M598.4,256.7 L578.2,315.5 L582,313.5 L586.4,317 L594.9,303.5 L599.2,307 L602.7,303.5 L610.6,315 L614.1,313.5 L618.3,315.8Z" fill="#fff"/>
  <!-- small mountain -->
  <path d="M559.3,300.8 L526.5,399.7 L560,399.7 L563.6,358.5 L571.3,334.2Z" fill="#d9f3e8"/>
  <path d="M559.3,300.8 L545.1,342.7 L549,340 L551.5,341.5 L554.2,338.4 L557,339.9 L561.3,332.7 L565.6,335.6 L568.4,331.3 L570.3,331.3Z" fill="#fff"/>
  <path d="M526.5,399.7 L559.3,300.8 L571.3,334.2" fill="none" stroke="#2352a6" stroke-width="1.8" stroke-linejoin="miter"/>
  <path d="M563.6,358.5 L598.4,256.7 L629.2,345" fill="none" stroke="#2352a6" stroke-width="1.8" stroke-linejoin="miter"/>
  <!-- right mountain -->
  <path d="M652.8,399.7 L687,329.9 L722.6,399.7Z" fill="#dcf4eb"/>
  <path d="M652.8,399.7 L687,329.9 L722.6,399.7" fill="none" stroke="#2352a6" stroke-width="1.8" stroke-linejoin="miter"/>
  <!-- teal pines -->
  <g fill="#8dd6ca">
    <path d="M553.7,375 L548.7,391.5 L558.3,391.5Z"/>
    <path d="M562.1,377.1 L557.3,392 L566.4,392Z"/>
    <path d="M569.4,371.8 L564.8,391.5 L573.9,391.5Z"/>
    <path d="M574.9,376 L570.6,392 L580.3,392Z"/>
  </g>
  <path d="M566.5,388.3 H569.5 L568.5,392 H567.5Z" fill="#7a7a7a"/>
  <!-- platform -->
  <path d="M593,377.1 H662 L660,384 C640,382 615,383 593,387Z" fill="#d4d4d4"/>
  <!-- hills -->
  <path d="M538.6,399.7 L550.3,391 H579 L579.2,385.1 C585,386 590,386.5 594.2,388.3 C600,391 604,395 607,399.7Z" fill="url(#hill3g)"/>
  <path d="M538.6,399.7 L550.3,391 H579 L579.2,385.1 C585,386 590,386.5 594.2,388.3 C600,391 604,395 607,399.7Z" fill="#000" filter="url(#grainH)"/>
  <path d="M591.5,388.5 C605,385.5 630,383 662,383.5 L653.5,399.7 H600Z" fill="url(#hill3g)"/>
  <path d="M591.5,388.5 C605,385.5 630,383 662,383.5 L653.5,399.7 H600Z" fill="#000" filter="url(#grainH)"/>
  <path d="M538.6,399.7 L550.3,391" fill="none" stroke="#2352a6" stroke-width="1.6"/>
  <path d="M579.2,385.1 C588,386 598,389 602,392.5 C604,394.5 606,397 607.5,399.7" fill="none" stroke="#2352a6" stroke-width="1.8"/>
  <path d="M591.5,388.5 C605,385.5 630,383 662,383.5" fill="none" stroke="#2352a6" stroke-width="1.8"/>
  <!-- facility -->
  <g stroke="#2352a6" stroke-width="2.1" fill="#dadada">
    <path d="M600.4,377 V359.5 H610.7 V377Z"/>
    <path d="M610.7,377 V343 Q610.7,340 613.5,340 H619.3 Q622.1,340 622.1,343 V377Z"/>
    <path d="M628.5,368.5 V347 Q628.5,343.6 631.5,343.6 H637.6 Q640.6,343.6 640.6,347 V368.5 L634.5,373.5Z"/>
    <path d="M642.8,368.5 V347 Q642.8,343.6 646,343.6 H654.6 Q657.8,343.6 657.8,347 V368.5 L650.3,373.5Z"/>
  </g>
  <rect x="600.4" y="359.5" width="10.3" height="17.5" fill="#000" filter="url(#grainXS)"/>
  <rect x="628.5" y="345" width="12.1" height="23.5" fill="#000" filter="url(#grainXS)"/>
  <rect x="642.8" y="345" width="15" height="23.5" fill="#000" filter="url(#grainXS)"/>
  <g stroke="#2352a6" stroke-width="1.6" fill="none">
    <path d="M613.3,343.5 V375.5 M618.8,343.5 V375.5"/>
    <path d="M628.5,350 H640.6 M642.8,350 H657.8 M628.5,368.5 H640.6 M642.8,368.5 H657.8 M629.5,368.5 V377 M639.6,368.5 V377 M643.8,368.5 V377 M656.8,368.5 V377"/>
    <path d="M622.1,347.5 L628.5,353.5 M622.1,352 L628.5,358"/>
    <path d="M600,377.2 H662.5"/>
    <path d="M655.5,347 V368" stroke-width="2.2"/>
    <path d="M600.4,361.2 H610.7" stroke-width="2.6"/>
  </g>
  <g fill="#2352a6">
    <circle cx="616" cy="345.5" r="1.1"/><circle cx="616" cy="349.1" r="1.1"/><circle cx="616" cy="352.7" r="1.1"/><circle cx="616" cy="356.3" r="1.1"/><circle cx="616" cy="359.9" r="1.1"/><circle cx="616" cy="363.5" r="1.1"/><circle cx="616" cy="367.1" r="1.1"/><circle cx="616" cy="370.7" r="1.1"/><circle cx="616" cy="374.3" r="1.1"/>
    <rect x="602" y="365" width="3" height="1.6"/><rect x="602" y="370" width="3" height="1.6"/>
  </g>
  <!-- ground -->
  <path d="M521.4,399.8 H546 M549,399.8 H713.2 M717.2,399.8 H726 M731.6,399.8 H738.4" stroke="#2352a6" stroke-width="1.9"/>
</g>
</svg>
</body></html>
